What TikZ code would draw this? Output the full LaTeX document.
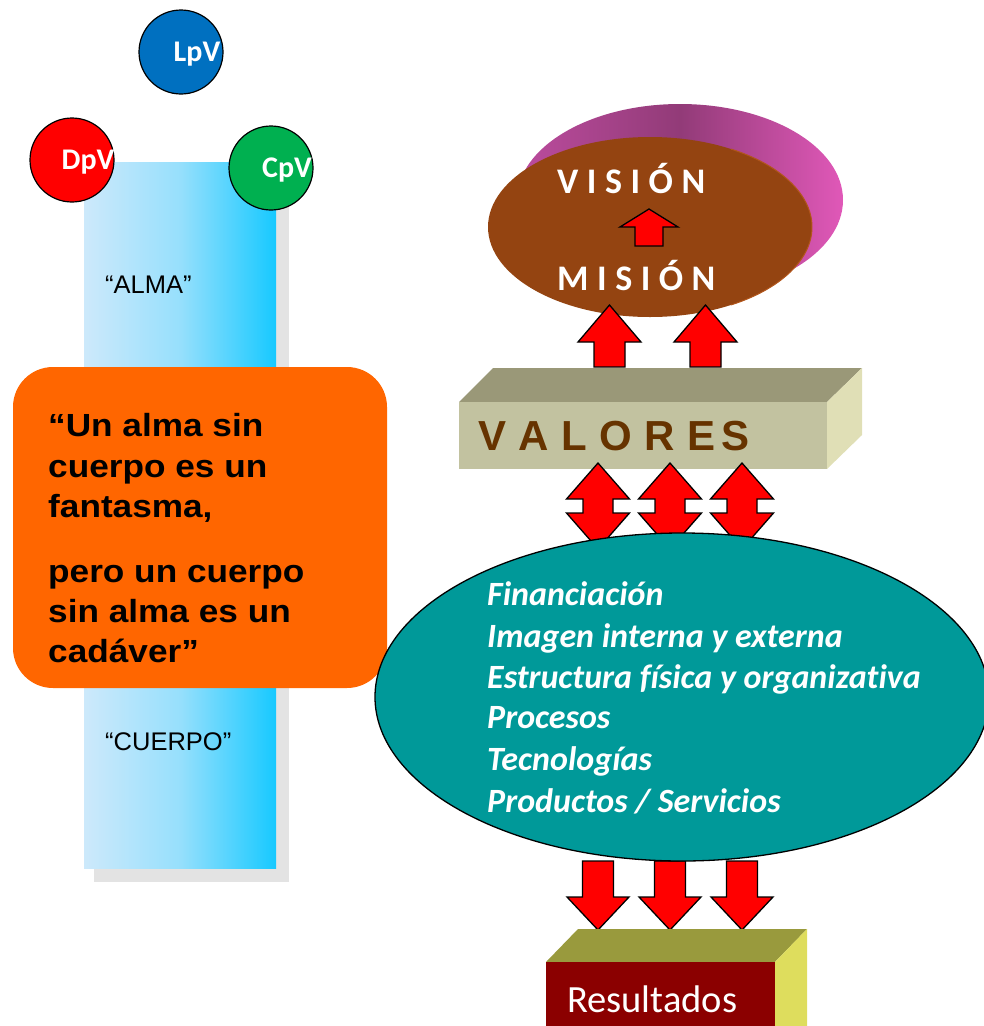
\documentclass[tikz,border=0pt]{standalone}
\usepackage{fontspec}
\newfontfamily\carlito{Carlito}
\newfontfamily\carlitonl[Ligatures=NoCommon]{Carlito}
\newfontfamily\arialf{Liberation Sans}
\usetikzlibrary{shapes.geometric}
\definecolor{blueL}{HTML}{CDE9FB}
\definecolor{blueR}{HTML}{17C9FF}
\definecolor{shadowgrey}{HTML}{E3E3E3}
\definecolor{orangebox}{HTML}{FF6600}
\definecolor{tealc}{HTML}{009999}
\definecolor{brownc}{HTML}{944411}
\definecolor{brownedge}{HTML}{B2561B}
\definecolor{magL}{HTML}{BC4C9E}
\definecolor{magM}{HTML}{923B78}
\definecolor{magR}{HTML}{E058B8}
\definecolor{valfront}{HTML}{C2C2A0}
\definecolor{valtop}{HTML}{9A9878}
\definecolor{valright}{HTML}{E0DFB6}
\definecolor{valtext}{HTML}{663300}
\definecolor{resfront}{HTML}{8B0000}
\definecolor{restop}{HTML}{999A3D}
\definecolor{resright}{HTML}{DEDD5D}
\definecolor{lpv}{HTML}{0070C0}
\definecolor{dpv}{HTML}{FF0000}
\definecolor{cpv}{HTML}{00B050}
\tikzset{
  redarrow/.style={fill=red, draw=black, line width=1.3pt, line join=miter},
  bigup/.pic={\path[redarrow] (0,0) -- (31.5,37) -- (15.5,37) -- (15.5,62) -- (-15.5,62) -- (-15.5,37) -- (-31.5,37) -- cycle;},
  smallup/.pic={\path[redarrow] (0,0) -- (29,18) -- (14,18) -- (14,37) -- (-14,37) -- (-14,18) -- (-29,18) -- cycle;},
  dblarrow/.pic={\path[redarrow] (0,0) -- (31.5,36) -- (15,36) -- (15,50) -- (31.5,50) -- (0,86) -- (-31.5,50) -- (-15,50) -- (-15,36) -- (-31.5,36) -- cycle;},
  downarr/.pic={\path[redarrow] (0,0) -- (31,-33) -- (15.5,-33) -- (15.5,-69) -- (-15.5,-69) -- (-15.5,-33) -- (-31,-33) -- cycle;},
  bubble/.style={circle, draw=black, line width=1.2pt, minimum size=84pt, inner sep=0pt},
  bubbletext/.style={text=white, font=\carlito\bfseries\fontsize{30}{36}\selectfont, inner sep=0pt},
  quote/.style={anchor=base west, inner sep=0pt, font=\arialf\bfseries\fontsize{32}{38}\selectfont, xscale=1.1},
  item/.style={anchor=base west, inner sep=0pt, text=white, font=\carlitonl\bfseries\itshape\fontsize{34}{40}\selectfont},
  bodylabel/.style={anchor=base west, inner sep=0pt, font=\arialf\fontsize{25.5}{30}\selectfont},
}
\begin{document}
\begin{tikzpicture}[x=1pt,y=-1pt]
\useasboundingbox (0,0) rectangle (984,1026);
% column
\fill[shadowgrey] (94,162) rectangle (289,882);
\shade[left color=blueL, right color=blueR, middle color=blueL!70!blueR] (84,162) rectangle (276,868);
\node[bodylabel] (alma) at (105,293) {“ALMA”};
\node[bodylabel] (cuerpo) at (105,750) {“CUERPO”};
% bubbles
\node[bubble, fill=lpv] (lpvc) at (181,52) {};
\node[bubbletext] (lpvt) at (197,54) {LpV};
\node[bubble, fill=dpv] (dpvc) at (72,160) {};
\node[bubbletext] (dpvt) at (88,162) {DpV};
\node[bubble, fill=cpv] (cpvc) at (271,168) {};
\node[bubbletext] (cpvt) at (287,170) {CpV};
% orange box
\fill[orangebox, rounded corners=40pt] (13,367) rectangle (387,688);
\node[quote] (q1) at (48,436) {“Un alma sin};
\node[quote] (q2) at (48,477) {cuerpo es un};
\node[quote] (q3) at (48,517) {fantasma,};
\node[quote] (q4) at (48,582) {pero un cuerpo};
\node[quote] (q5) at (48,622) {sin alma es un};
\node[quote] (q6) at (48,662) {cadáver”};
% vision / mision
\shade[left color=magL, right color=magR, middle color=magM] (680,200) ellipse [x radius=163pt, y radius=96pt];
\fill[brownc] (650,227) ellipse [x radius=162pt, y radius=90pt];
\draw[brownedge, line width=1pt] (650,227) ++(60:162pt and 90pt) arc [start angle=60, end angle=-60, x radius=162pt, y radius=90pt];
\node[anchor=base west, inner sep=0pt, text=white, font=\carlito\bfseries\fontsize{36}{40}\selectfont] (vision) at (557,193) {V\hspace{8.5pt}I\hspace{8.5pt}S\hspace{8.5pt}I\hspace{8.5pt}Ó\hspace{8.5pt}N};
\node[anchor=base west, inner sep=0pt, text=white, font=\carlito\bfseries\fontsize{36}{40}\selectfont] (mision) at (557,290) {M\hspace{8.5pt}I\hspace{8.5pt}S\hspace{8.5pt}I\hspace{8.5pt}Ó\hspace{8.5pt}N};
\pic at (649,209) {smallup};
% arrows to mision
\pic at (609.5,305) {bigup};
\pic at (705.5,305) {bigup};
% valores box
\fill[valtop] (459,402) -- (493,368) -- (862,368) -- (827,402) -- cycle;
\fill[valright] (827,402) -- (862,368) -- (862,435) -- (827,469) -- cycle;
\fill[valfront] (459,402) rectangle (827,469);
\node[anchor=base west, inner sep=0pt, text=valtext, font=\arialf\bfseries\fontsize{42}{46}\selectfont] (valores) at (478,450) {V\hspace{12.5pt}A\hspace{12.5pt}L\hspace{12.5pt}O\hspace{12.5pt}R\hspace{12.5pt}E\hspace{6pt}S};
% double arrows
\pic at (598,463) {dblarrow};
\pic at (670,463) {dblarrow};
\pic at (742,463) {dblarrow};
% down arrows
\pic at (598,930) {downarr};
\pic at (670,930) {downarr};
\pic at (742,930) {downarr};
% teal ellipse
\draw[fill=tealc, draw=black, line width=1.3pt] (682,697) ellipse [x radius=307pt, y radius=164pt];
\node[item] (i1) at (487,605) {Financiación};
\node[item] (i2) at (487,647) {Imagen interna y externa};
\node[item] (i3) at (487,688) {Estructura física y organizativa};
\node[item] (i4) at (487,728) {Procesos};
\node[item] (i5) at (487,770) {Tecnologías};
\node[item] (i6) at (487,812) {Productos / Servicios};
% resultados box
\fill[restop] (546,962) -- (578,929) -- (807,929) -- (775,962) -- cycle;
\fill[resright] (775,962) -- (807,929) -- (807,1040) -- (775,1040) -- cycle;
\fill[resfront] (546,962) rectangle (775,1040);
\node[anchor=base west, inner sep=0pt, text=white, font=\carlito\fontsize{38.5}{42}\selectfont] (res) at (567,1012) {Resultados};
\end{tikzpicture}
\end{document}
